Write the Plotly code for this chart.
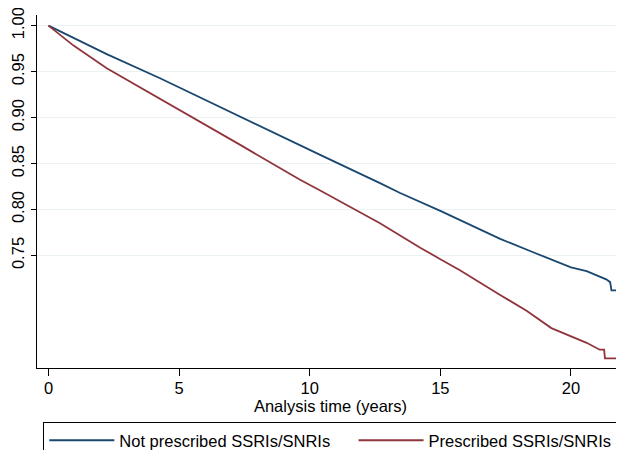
import plotly.graph_objects as go

# Kaplan-Meier estimates
t_not = [0, 0.96, 2.23, 4.27, 7.34, 9.63, 10.4, 12.69, 13.46, 15.0, 15.75, 17.29, 18.6, 20, 20.6, 21.11, 21.35, 21.5, 21.55, 21.82]
s_not = [1.0, 0.9865, 0.969, 0.9428, 0.9011, 0.8692, 0.8595, 0.8287, 0.818, 0.7985, 0.7888, 0.768, 0.753, 0.737, 0.733, 0.727, 0.724, 0.721, 0.712, 0.712]

t_pres = [0, 0.96, 2.23, 4.27, 7.34, 9.63, 10.4, 12.69, 13.46, 14.23, 15.0, 15.75, 17.29, 18.3, 19.25, 20, 20.6, 21.1, 21.27, 21.3, 21.8]
s_pres = [1.0, 0.9783, 0.9537, 0.9205, 0.8703, 0.8323, 0.8207, 0.785, 0.7715, 0.7585, 0.746, 0.734, 0.707, 0.690, 0.671, 0.662, 0.655, 0.6475, 0.6475, 0.638, 0.638]

names = ["Not prescribed SSRIs/SNRIs", "Prescribed SSRIs/SNRIs"]
colors = ["#1a476f", "#90353b"]

y_ticks = [0.75, 0.80, 0.85, 0.90, 0.95, 1.00]
y_ticktext = ["0.75", "0.80", "0.85", "0.90", "0.95", "1.00"]
x_ticks = [0, 5, 10, 15, 20]

FONT = "Liberation Sans, Arial, sans-serif"
PAD = "\u00a0" * 4  # spacing after first legend entry

fig = go.Figure()
for i, (t, s, n, c) in enumerate([(t_not, s_not, names[0], colors[0]),
                                  (t_pres, s_pres, names[1], colors[1])]):
    fig.add_trace(go.Scatter(x=t, y=s, mode="lines",
                             name=n + (PAD if i == 0 else ""),
                             line=dict(color=c, width=1.8)))

fig.update_layout(
    width=624, height=450,
    margin=dict(l=28.7, r=8, t=7, b=89.7),
    paper_bgcolor="white", plot_bgcolor="white",
    font=dict(family=FONT, size=16.5, color="black"),
    showlegend=True,
    legend=dict(
        orientation="h",
        xref="container", yref="container",
        x=35.3 / 624, xanchor="left",
        y=1 - 414 / 450, yanchor="top",
        bordercolor="black", borderwidth=1,
        itemwidth=65,
        font=dict(family=FONT, size=16.5),
        bgcolor="white",
    ),
    xaxis=dict(
        range=[-0.44, 22.03],
        tickvals=x_ticks,
        ticks="outside", ticklen=7, tickcolor="black",
        ticklabelstandoff=-2,
        showline=True, linecolor="black", linewidth=1,
        showgrid=False, zeroline=False, automargin=False,
        ticklabeloverflow="allow",
        title=dict(text="Analysis time (years)", standoff=0, font=dict(size=16.5)),
        tickfont=dict(size=16.5),
    ),
    yaxis=dict(
        range=[0.6276, 1.0116],
        tickvals=y_ticks, ticktext=y_ticktext,
        tickangle=-90,
        ticks="outside", ticklen=5, tickcolor="black",
        showline=True, linecolor="black", linewidth=1,
        showgrid=True, gridcolor="#eaf2f3", gridwidth=1,
        zeroline=False, automargin=False,
        ticklabeloverflow="allow",
        tickfont=dict(size=16.5),
    ),
)

fig.write_html("out.html")
